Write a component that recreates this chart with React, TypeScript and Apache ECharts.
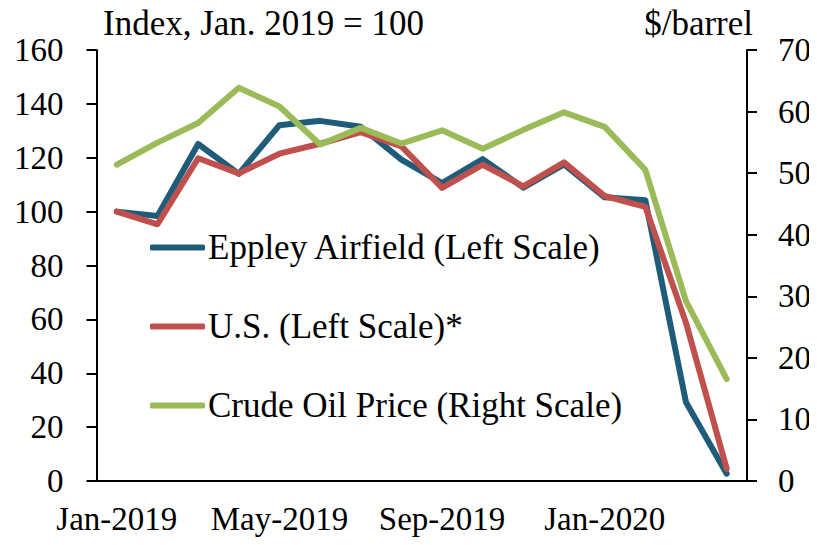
import React, { useEffect, useRef } from "react";
import * as echarts from "echarts";

const months = [
  "Jan-2019", "Feb-2019", "Mar-2019", "Apr-2019", "May-2019", "Jun-2019",
  "Jul-2019", "Aug-2019", "Sep-2019", "Oct-2019", "Nov-2019", "Dec-2019",
  "Jan-2020", "Feb-2020", "Mar-2020", "Apr-2020",
];
const eppley = [100, 98.4, 125.1, 114, 132.1, 133.7, 131.5, 119.3, 110.6, 119.5, 108.9, 117.5, 105.3, 104.2, 29.2, 2.7];
const us = [100, 95.3, 119.8, 114.2, 121.5, 125.2, 129.5, 124.2, 108.8, 117.4, 109.4, 118.3, 105.8, 101.8, 58.7, 4.6];
const crude = [51.38, 54.95, 58.15, 63.86, 60.83, 54.66, 57.35, 54.81, 56.95, 53.96, 57.03, 59.88, 57.52, 50.54, 29.21, 16.55];
const leftTicks = { min: 0, max: 160, interval: 20 };
const rightTicks = { min: 0, max: 70, interval: 10 };

const FONT = '"Liberation Serif", "Times New Roman", serif';
const BLUE = "#1F5C79";
const RED = "#C0504D";
const GREEN = "#9BBB59";

export default function App() {
  const ref = useRef<HTMLDivElement>(null);
  useEffect(() => {
    if (!ref.current) return;
    const chart = echarts.init(ref.current, undefined, { renderer: "svg" });
    const axisText = { color: "#000", fontFamily: FONT, fontSize: 33 };
    const lineW = 6;
    chart.setOption({
      animation: false,
      backgroundColor: "#fff",
      grid: { left: 96.5, right: 70, top: 50, bottom: 64 },
      graphic: [
        {
          type: "text",
          style: { text: "Index, Jan. 2019 = 100", x: 103, y: 23, font: `35px ${FONT}`, fill: "#000", verticalAlign: "middle" },
        },
        {
          type: "text",
          style: { text: "$/barrel", x: 753, y: 23, font: `35px ${FONT}`, fill: "#000", align: "right", verticalAlign: "middle" },
        },
      ],
      legend: {
        orient: "vertical",
        left: 150,
        top: 230,
        padding: 0,
        icon: "roundRect",
        itemWidth: 55,
        itemHeight: 6,
        itemGap: 44,
        textStyle: { ...axisText, fontSize: 35, lineHeight: 34, padding: [0, 0, 0, -2] },
        data: ["Eppley Airfield (Left Scale)", "U.S. (Left Scale)*", "Crude Oil Price (Right Scale)"],
      },
      xAxis: [
        {
          type: "category",
          data: months,
          boundaryGap: true,
          axisLine: { lineStyle: { color: "#000", width: 2 } },
          axisTick: { interval: 3, length: 11, lineStyle: { color: "#000", width: 2 } },
          axisLabel: { ...axisText, interval: 3, margin: 21 },
        },
        {
          type: "category",
          data: months,
          position: "top",
          axisLine: { lineStyle: { color: "#000", width: 2 } },
          axisTick: { show: false },
          axisLabel: { show: false },
        },
      ],
      yAxis: [
        {
          type: "value",
          ...leftTicks,
          axisLine: { show: true, lineStyle: { color: "#000", width: 2 } },
          axisTick: { show: true, length: 10, lineStyle: { color: "#000", width: 2 } },
          axisLabel: { ...axisText, margin: 33 },
          splitLine: { show: false },
        },
        {
          type: "value",
          position: "right",
          ...rightTicks,
          axisLine: { show: true, lineStyle: { color: "#000", width: 2 } },
          axisTick: { show: true, length: 10, lineStyle: { color: "#000", width: 2 } },
          axisLabel: { ...axisText, margin: 31 },
          splitLine: { show: false },
        },
      ],
      series: [
        {
          name: "Eppley Airfield (Left Scale)",
          type: "line",
          data: eppley,
          yAxisIndex: 0,
          symbol: "none",
          color: BLUE,
          lineStyle: { color: BLUE, width: lineW, cap: "round", join: "round" },
        },
        {
          name: "U.S. (Left Scale)*",
          type: "line",
          data: us,
          yAxisIndex: 0,
          symbol: "none",
          color: RED,
          lineStyle: { color: RED, width: lineW, cap: "round", join: "round" },
        },
        {
          name: "Crude Oil Price (Right Scale)",
          type: "line",
          data: crude,
          yAxisIndex: 1,
          symbol: "none",
          color: GREEN,
          lineStyle: { color: GREEN, width: lineW, cap: "round", join: "round" },
        },
      ],
    });
    return () => chart.dispose();
  }, []);
  return <div ref={ref} style={{ width: 817, height: 545, margin: -8 }} />;
}
